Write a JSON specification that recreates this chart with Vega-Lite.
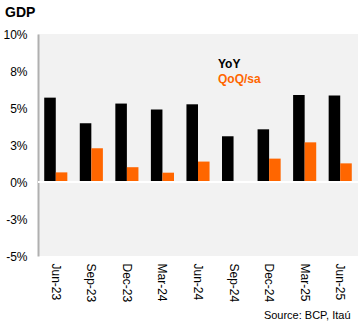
{
  "$schema": "https://vega.github.io/schema/vega-lite/v6.json",
  "autosize": {"type": "none"},
  "padding": {"left": 38, "top": 34, "right": 2, "bottom": 67},
  "width": 320,
  "height": 222,
  "background": "white",
  "title": {"text": "GDP", "anchor": "start", "frame": "group", "dx": -33, "offset": 8, "fontSize": 14, "fontWeight": "bold", "font": "Liberation Sans", "color": "#000"},
  "config": {
    "view": {"fill": "#f2f2f2", "stroke": null},
    "font": "Liberation Sans"
  },
  "data": {"values": [
    {"q": "Jun-23", "s": "YoY", "v": 5.7},
    {"q": "Jun-23", "s": "QoQ/sa", "v": 0.65},
    {"q": "Sep-23", "s": "YoY", "v": 3.97},
    {"q": "Sep-23", "s": "QoQ/sa", "v": 2.28},
    {"q": "Dec-23", "s": "YoY", "v": 5.3},
    {"q": "Dec-23", "s": "QoQ/sa", "v": 1.0},
    {"q": "Mar-24", "s": "YoY", "v": 4.9},
    {"q": "Mar-24", "s": "QoQ/sa", "v": 0.63},
    {"q": "Jun-24", "s": "YoY", "v": 5.25},
    {"q": "Jun-24", "s": "QoQ/sa", "v": 1.38},
    {"q": "Sep-24", "s": "YoY", "v": 3.09},
    {"q": "Sep-24", "s": "QoQ/sa", "v": 0.05},
    {"q": "Dec-24", "s": "YoY", "v": 3.56},
    {"q": "Dec-24", "s": "QoQ/sa", "v": 1.58},
    {"q": "Mar-25", "s": "YoY", "v": 5.88},
    {"q": "Mar-25", "s": "QoQ/sa", "v": 2.68},
    {"q": "Jun-25", "s": "YoY", "v": 5.84},
    {"q": "Jun-25", "s": "QoQ/sa", "v": 1.26}
  ]},
  "layer": [
    {
      "mark": {"type": "bar"},
      "encoding": {
        "x": {
          "field": "q", "type": "nominal", "sort": null,
          "scale": {"paddingInner": 0.35, "paddingOuter": 0.175},
          "axis": {
            "labelAngle": 90, "labelAlign": "left", "labelBaseline": "middle",
            "labelFontSize": 12, "labelColor": "#000", "labelPadding": 7,
            "labelOverlap": false,
            "domain": false, "ticks": false,
            "title": "Source: BCP, Itaú", "titleFontSize": 11, "titleFontWeight": "normal",
            "titleColor": "#000", "titleAlign": "right", "titleAnchor": "end",
            "titleX": 312, "titleY": 62, "titleBaseline": "alphabetic"
          }
        },
        "xOffset": {"field": "s", "type": "nominal", "sort": ["YoY", "QoQ/sa"], "scale": {"paddingInner": 0, "paddingOuter": 0}},
        "y": {
          "field": "v", "type": "quantitative",
          "scale": {"domain": [-5, 10], "nice": false},
          "axis": {
            "values": [-5, -2.5, 0, 2.5, 5, 7.5, 10],
            "labelExpr": "datum.value == 7.5 ? '8%' : datum.value == 2.5 ? '3%' : datum.value == -2.5 ? '-3%' : datum.value + '%'",
            "labelOverlap": false,
            "labelFontSize": 12, "labelColor": "#000", "labelPadding": 11,
            "grid": false, "ticks": false,
            "domainColor": "#b0b0b0", "domainWidth": 2,
            "title": null
          }
        },
        "color": {
          "field": "s", "type": "nominal",
          "scale": {"domain": ["YoY", "QoQ/sa"], "range": ["#000000", "#ff6600"]},
          "legend": {
            "orient": "none", "legendX": 168, "legendY": 24,
            "title": null, "symbolSize": 0, "symbolOpacity": 0, "symbolStrokeWidth": 0,
            "labelOffset": 0, "labelFontSize": 12, "labelFontWeight": "bold",
            "rowPadding": 3,
            "encode": {"labels": {"update": {"fill": {"signal": "datum.value == 'YoY' ? '#000000' : '#ff6600'"}}}}
          }
        }
      }
    },
    {
      "mark": {"type": "rule", "color": "white", "strokeWidth": 1.5},
      "encoding": {"y": {"datum": 0, "type": "quantitative",
        "axis": {
            "values": [-5, -2.5, 0, 2.5, 5, 7.5, 10],
            "labelExpr": "datum.value == 7.5 ? '8%' : datum.value == 2.5 ? '3%' : datum.value == -2.5 ? '-3%' : datum.value + '%'",
            "labelOverlap": false,
            "labelFontSize": 12, "labelColor": "#000", "labelPadding": 11,
            "grid": false, "ticks": false,
            "domainColor": "#b0b0b0", "domainWidth": 2,
            "title": null
          }}}
    }
  ]
}
